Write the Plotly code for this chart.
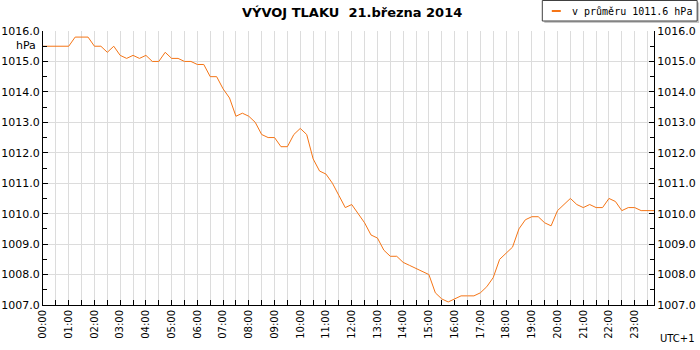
import numpy as np
import plotly.graph_objects as go

# 15-minute readings, 00:00 .. 23:45
pressure = [
    1015.5, 1015.5, 1015.5, 1015.5, 1015.5, 1015.8, 1015.8, 1015.8,
    1015.5, 1015.5, 1015.3, 1015.5, 1015.2, 1015.1, 1015.2, 1015.1,
    1015.2, 1015.0, 1015.0, 1015.3, 1015.1, 1015.1, 1015.0, 1015.0,
    1014.9, 1014.9, 1014.5, 1014.5, 1014.1, 1013.8, 1013.2, 1013.3,
    1013.2, 1013.0, 1012.6, 1012.5, 1012.5, 1012.2, 1012.2, 1012.6,
    1012.8, 1012.6, 1011.8, 1011.4, 1011.3, 1011.0, 1010.6, 1010.2,
    1010.3, 1010.0, 1009.7, 1009.3, 1009.2, 1008.8, 1008.6, 1008.6,
    1008.4, 1008.3, 1008.2, 1008.1, 1008.0, 1007.4, 1007.2, 1007.1,
    1007.2, 1007.3, 1007.3, 1007.3, 1007.4, 1007.6, 1007.9, 1008.5,
    1008.7, 1008.9, 1009.5, 1009.8, 1009.9, 1009.9, 1009.7, 1009.6,
    1010.1, 1010.3, 1010.5, 1010.3, 1010.2, 1010.3, 1010.2, 1010.2,
    1010.5, 1010.4, 1010.1, 1010.2, 1010.2, 1010.1, 1010.1, 1010.1,
]
hours = [i * 0.25 for i in range(len(pressure))]
hour_ticks = list(range(24))
hour_labels = [f"{h:02d}:00" for h in hour_ticks]
y_ticks = [1007, 1008, 1009, 1010, 1011, 1012, 1013, 1014, 1015, 1016]
y_labels = [f"{v:.1f}" for v in y_ticks]

title_text = "VÝVOJ TLAKU  21.března 2014"
legend_text = "v průměru 1011.6 hPa"

LINE = "#f57516"
GRID = "#dcdcdc"

fig = go.Figure()
fig.add_trace(go.Scatter(x=hours, y=pressure, mode="lines",
                         line=dict(color=LINE, width=1), showlegend=False,
                         name=legend_text))
fig.add_trace(go.Scatter(x=hours, y=pressure, mode="lines", yaxis="y2",
                         line=dict(color="rgba(0,0,0,0)", width=0),
                         showlegend=False, hoverinfo="skip"))

L, R, T, B = 42.7, 654.3, 31, 305
W, H = 700, 350

axis_common = dict(
    showline=True, linecolor="black", linewidth=1,
    ticks="inside", ticklen=5, tickcolor="black", tickwidth=1,
    gridcolor=GRID, gridwidth=1, zeroline=False, automargin=False,
)

fig.update_layout(
    template="none",
    width=W, height=H,
    margin=dict(l=L, r=W - R, t=T, b=H - B, pad=0),
    paper_bgcolor="white", plot_bgcolor="white",
    font=dict(family="DejaVu Sans", size=10, color="black"),
    xaxis=dict(
        range=[0, 23.75], tickvals=hour_ticks, ticktext=hour_labels,
        tickangle=-90, tickfont=dict(size=10), **axis_common,
        minor=dict(dtick=0.5, tick0=0, ticks="inside", ticklen=5,
                   tickcolor="black", showgrid=True, gridcolor=GRID),
    ),
    yaxis=dict(
        range=[1007, 1016], tickvals=y_ticks, ticktext=y_labels,
        tickfont=dict(size=11), **axis_common,
        minor=dict(dtick=0.5, tick0=1007, ticks="inside", ticklen=4,
                   tickcolor="black", showgrid=False),
    ),
    yaxis2=dict(
        range=[1007, 1016], tickvals=y_ticks, ticktext=y_labels,
        overlaying="y", side="right", showgrid=False, automargin=False,
        tickfont=dict(size=11), showline=True, linecolor="black",
        ticks="inside", ticklen=5, tickcolor="black", zeroline=False,
        minor=dict(dtick=0.5, tick0=1007, ticks="inside", ticklen=4,
                   tickcolor="black"),
    ),
    showlegend=False,
)

def px_x(p):
    return (p - L) / (R - L)

def px_y(p):
    return (B - p) / (B - T)

# legend box with shadow
fig.add_shape(type="rect", xref="paper", yref="paper",
              x0=px_x(544.5), x1=px_x(699.5), y0=px_y(23), y1=px_y(2.5),
              fillcolor="#c8c8c8", line=dict(width=0), layer="above")
fig.add_shape(type="rect", xref="paper", yref="paper",
              x0=px_x(542.5), x1=px_x(697.5), y0=px_y(21), y1=px_y(0.5),
              fillcolor="white", line=dict(color="#404040", width=1), layer="above")
fig.add_shape(type="line", xref="paper", yref="paper",
              x0=px_x(552), x1=px_x(561), y0=px_y(11), y1=px_y(11),
              line=dict(color=LINE, width=2), layer="above")
fig.add_annotation(text=legend_text, xref="paper", yref="paper",
                   x=px_x(570), y=px_y(11), xanchor="left", yanchor="middle",
                   showarrow=False,
                   font=dict(family="DejaVu Sans Mono", size=10, color="black"))

fig.add_annotation(text="<b>" + title_text + "</b>", xref="paper", yref="paper",
                   x=px_x(352), y=px_y(13), xanchor="center", yanchor="middle",
                   showarrow=False,
                   font=dict(family="DejaVu Sans", size=13, color="black"))
fig.add_annotation(text="hPa", xref="paper", yref="paper",
                   x=px_x(38), y=px_y(45), xanchor="right", yanchor="middle",
                   showarrow=False, font=dict(size=11, color="black"))
fig.add_annotation(text="UTC+1", xref="paper", yref="paper",
                   x=px_x(697), y=px_y(338), xanchor="right", yanchor="middle",
                   showarrow=False, font=dict(size=10, color="black"))

fig.write_html("out.html", config={"displayModeBar": False},
               post_script="document.body.style.margin='0';document.body.style.padding='0';")
